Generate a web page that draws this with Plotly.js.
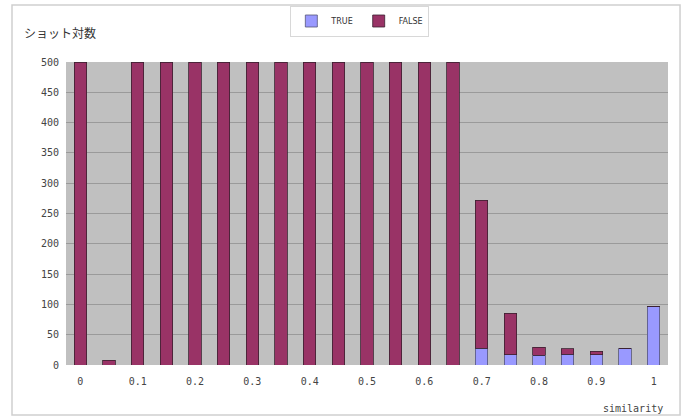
<!DOCTYPE html>
<html><head><meta charset="utf-8">
<script src="https://cdn.plot.ly/plotly-3.0.1.min.js"></script>
<style>html,body{margin:0;padding:0;background:#fff}#c{width:692px;height:420px}</style>
</head><body><div id="c"></div>
<script>
const categories = ["0","0.05","0.1","0.15","0.2","0.25","0.3","0.35","0.4","0.45","0.5","0.55","0.6","0.65","0.7","0.75","0.8","0.85","0.9","0.95","1"];
const trueValues  = [0,0,0,0,0,0,0,0,0,0,0,0,0,0,28,17,16,18,17,28,97];
const falseValues = [500,8,500,500,500,500,500,500,500,500,500,500,500,500,244,68,13,9,6,0,0];
const tickLabels = ["0","0.1","0.2","0.3","0.4","0.5","0.6","0.7","0.8","0.9","1"];
const yTicks = [0,50,100,150,200,250,300,350,400,450,500];

const tickFont = {family:"DejaVu Sans Mono, monospace", size:10, color:"#444"};
const traces = [
  {type:"bar", name:"TRUE", x:categories, y:trueValues,
   marker:{color:"#9999ff", line:{color:"#555577", width:0.8}}},
  {type:"bar", name:"FALSE", x:categories, y:falseValues,
   marker:{color:"#993366", line:{color:"#3a2030", width:0.8}}}
];
const layout = {
  width:692, height:420,
  margin:{l:66, r:24, t:62, b:55, autoexpand:false},
  barmode:"stack", bargap:0.56,
  paper_bgcolor:"#ffffff", plot_bgcolor:"#c0c0c0",
  showlegend:true,
  legend:{orientation:"h", x:0.52, xref:"container", xanchor:"center",
          y:0.95, yref:"container", yanchor:"middle",
          bgcolor:"#ffffff", bordercolor:"#d8d8d8", borderwidth:1,
          font:{family:"DejaVu Sans, sans-serif", size:8, color:"#333"},
          itemwidth:30, traceorder:"normal", tracegroupgap:0},
  xaxis:{type:"category", tickmode:"array", tickvals:tickLabels, ticktext:tickLabels,
         tickfont:tickFont, showgrid:false, zeroline:false, ticks:"", showline:false,
         ticklabelstandoff:9},
  yaxis:{range:[0,500], tickmode:"array", tickvals:yTicks, tickfont:tickFont,
         showgrid:true, gridcolor:"#9a9a9a", gridwidth:1, zeroline:false, ticks:"",
         showline:false, ticklabelstandoff:6},
  shapes:[
    {type:"rect", xref:"paper", yref:"paper", x0:-0.0897, x1:1.02, y0:-0.165, y1:1.188,
     line:{color:"#cfcfcf", width:1.5}, fillcolor:"rgba(0,0,0,0)", layer:"below"}
  ],
  annotations:[
    {text:"ショット対数", xref:"paper", yref:"paper", x:-0.073, y:1.096, xanchor:"left", yanchor:"middle",
     showarrow:false, font:{family:"Noto Sans CJK JP", size:12, color:"#333"}},
    {text:"similarity", xref:"paper", yref:"paper", x:0.995, y:-0.142, xanchor:"right", yanchor:"middle",
     showarrow:false, font:tickFont}
  ]
};
Plotly.newPlot("c", traces, layout, {displayModeBar:false, staticPlot:true});
</script></body></html>
